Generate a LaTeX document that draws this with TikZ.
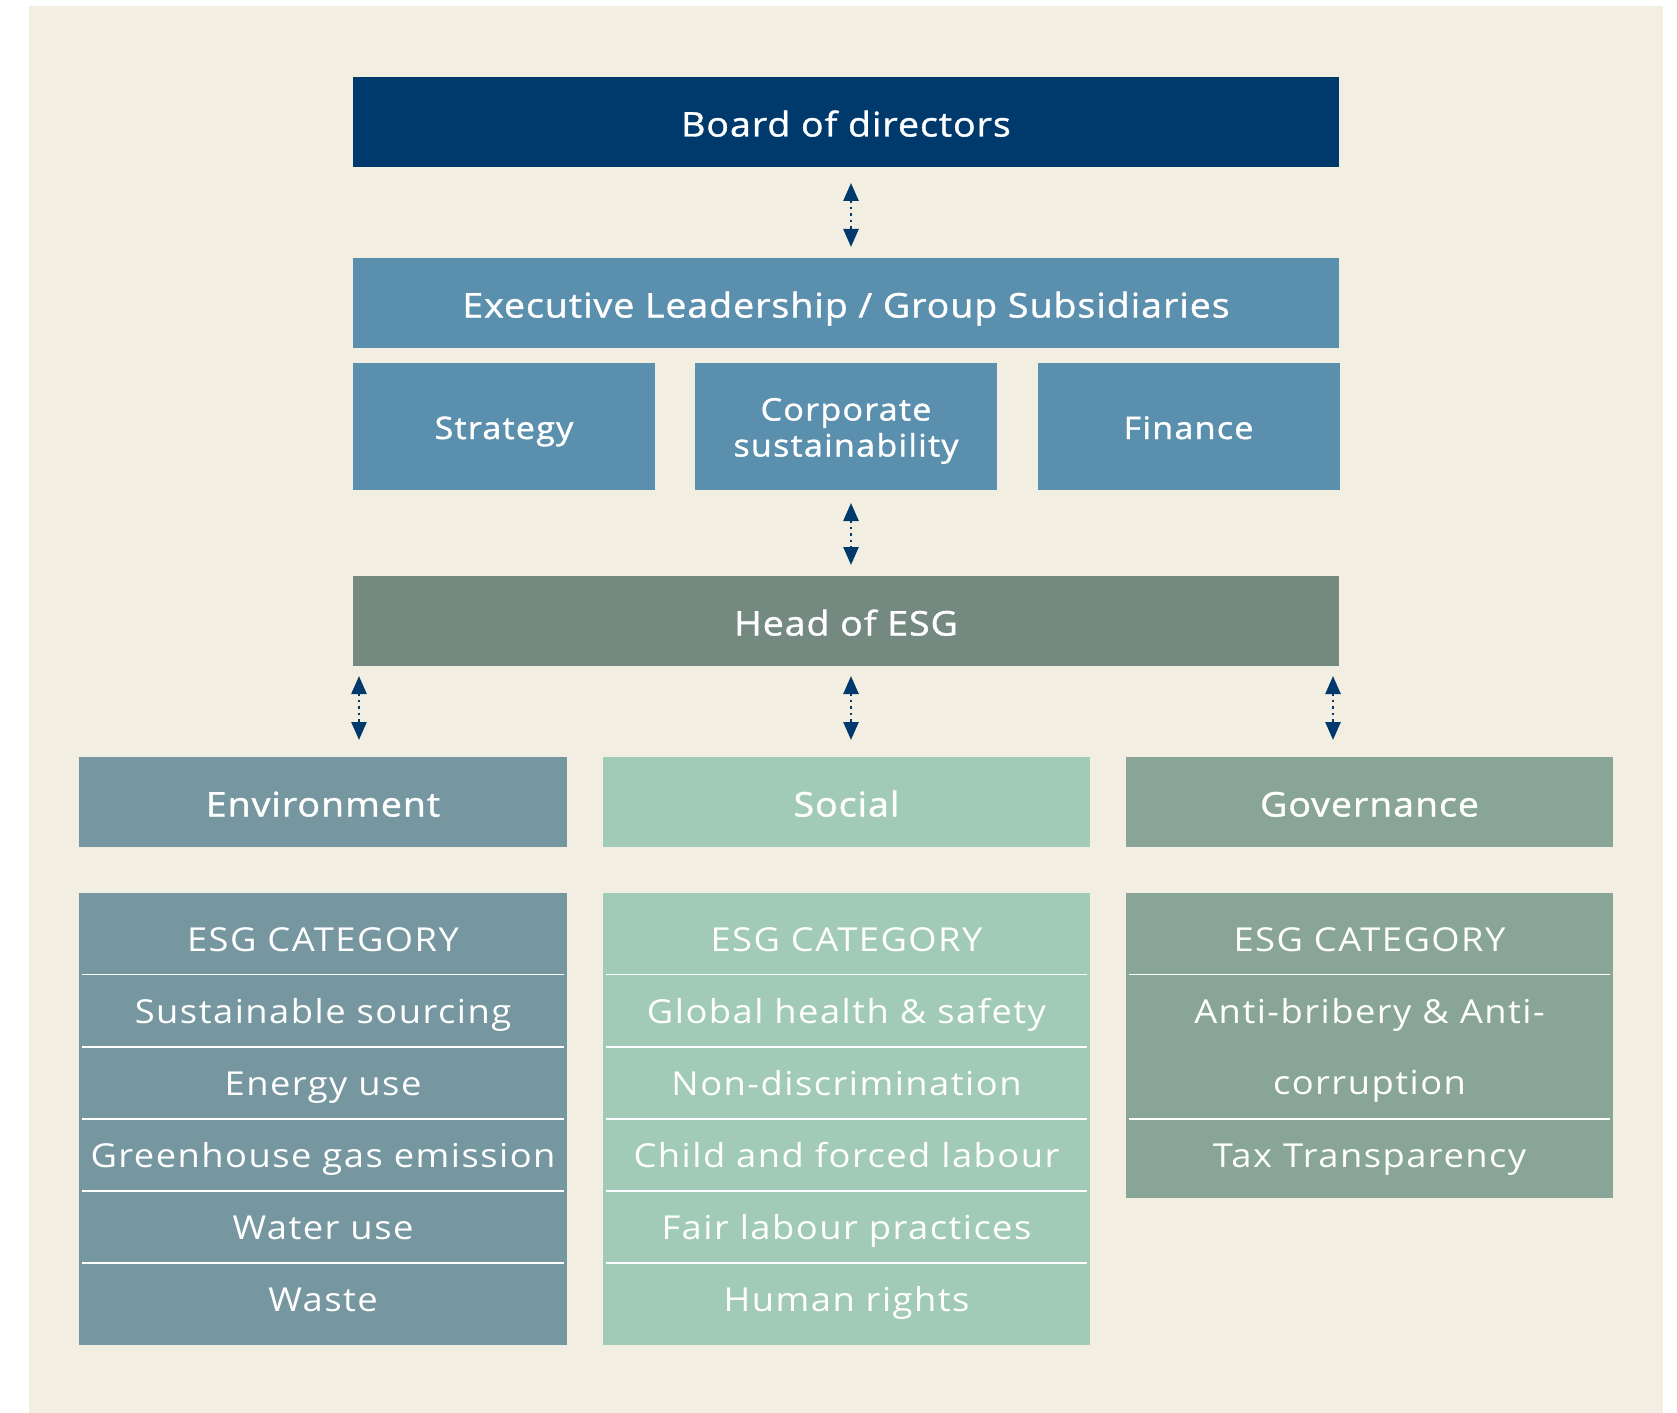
\documentclass[tikz,border=0pt]{standalone}
\usepackage{fontspec}
\setmainfont{Open Sans}
\newfontfamily\titlefont{Open Sans}[FakeBold=1.2, FakeStretch=1.1, LetterSpace=3]
\newfontfamily\subfont{Open Sans}[FakeBold=1.2, FakeStretch=1.1, LetterSpace=4]
\newfontfamily\cellfont{Open Sans}[FakeStretch=1.1, LetterSpace=4.5]
\usetikzlibrary{arrows.meta}
\definecolor{bgc}{HTML}{F3EEE2}
\definecolor{navy}{HTML}{003A6C}
\definecolor{steel}{HTML}{5B8FAE}
\definecolor{headc}{HTML}{748A80}
\definecolor{envc}{HTML}{76979F}
\definecolor{socc}{HTML}{A2CBB7}
\definecolor{govc}{HTML}{88A598}
\tikzset{
  box/.style={fill=#1, inner sep=0pt, outer sep=0pt, text=white,
    font=\titlefont\fontsize{34bp}{40bp}\selectfont, text height=29bp, text depth=0pt},
  subbox/.style={fill=steel, inner sep=0pt, outer sep=0pt, text=white,
    minimum width=302bp, minimum height=127bp,
    font=\subfont\fontsize{31bp}{36bp}\selectfont, text height=25bp, text depth=0pt},
  subtext/.style={inner sep=0pt, text=white, align=center,
    font=\subfont\fontsize{31bp}{36bp}\selectfont},
  tabbg/.style={fill=#1, inner sep=0pt, outer sep=0pt, minimum width=488bp},
  cell/.style={inner sep=0pt, text=white, font=\cellfont\fontsize{33bp}{40bp}\selectfont,
    text height=24bp, text depth=0pt},
  sepline/.style={white, line width=1.5bp},
  arr/.style={navy, line width=2.5bp, dash pattern=on 2.5bp off 4bp,
    {Triangle[width=15bp,length=18bp]}-{Triangle[width=15bp,length=18bp]}}
}
\begin{document}
\begin{tikzpicture}[x=1bp,y=-1bp]
\useasboundingbox (0,0) rectangle (1677,1413);
\fill[bgc] (29,6) rectangle (1663,1413);
% top boxes
\node[box=navy, minimum width=986bp, minimum height=90bp] (board) at (846,122) {Board of directors};
\node[box=steel, minimum width=986bp, minimum height=90bp] (exec) at (846,303) {Executive Leadership / Group Subsidiaries};
\node[subbox] (strat) at (504,426.5) {Strategy};
\node[subbox] (corp) at (846,426.5) {};
\node[subtext] (corptext) at ([yshift=-4.5bp]corp.center) {Corporate\\sustainability};
\node[subbox] (fin) at (1188.5,426.5) {Finance};
\node[box=headc, minimum width=986bp, minimum height=90bp] (head) at (846,621) {Head of ESG};
% category boxes
\node[box=envc, minimum width=488bp, minimum height=90bp] (env) at (323,802) {Environment};
\node[box=socc, minimum width=487bp, minimum height=90bp] (soc) at (846.5,802) {Social};
\node[box=govc, minimum width=487bp, minimum height=90bp] (gov) at (1369.5,802) {Governance};
% arrows
\coordinate (a1) at ([xshift=5bp]board.south);
\draw[arr, shorten <=16bp, shorten >=11bp] (a1) -- (a1 |- exec.north);
\coordinate (a2) at ([xshift=5bp]corp.south);
\draw[arr, shorten <=13bp, shorten >=11bp] (a2) -- (a2 |- head.north);
\coordinate (a3) at ([xshift=6bp]head.south west);
\coordinate (a4) at ([xshift=5bp]head.south);
\coordinate (a5) at ([xshift=-6bp]head.south east);
\draw[arr, shorten <=10bp, shorten >=17bp] (a3) -- (a3 |- env.north);
\draw[arr, shorten <=10bp, shorten >=17bp] (a4) -- (a4 |- soc.north);
\draw[arr, shorten <=10bp, shorten >=17bp] (a5) -- (a5 |- gov.north);
% tables
\node[tabbg=envc, minimum height=452bp] (te) at (323,1119) {};
\node[tabbg=socc, minimum width=487bp, minimum height=452bp] (ts) at (846.5,1119) {};
\node[tabbg=govc, minimum width=487bp, minimum height=305bp] (tg) at (1369.5,1045.5) {};
\foreach \y in {974.5,1047,1119,1191,1263}{
  \draw[sepline] ([xshift=3bp]te.west |- 0,\y) -- ([xshift=-3bp]te.east |- 0,\y);
  \draw[sepline] ([xshift=3bp]ts.west |- 0,\y) -- ([xshift=-3bp]ts.east |- 0,\y);
}
\foreach \y in {974.5,1119}{
  \draw[sepline] ([xshift=3bp]tg.west |- 0,\y) -- ([xshift=-3bp]tg.east |- 0,\y);
}
\node[cell] (e0) at (323,939) {ESG CATEGORY};
\node[cell] (e1) at (323,1011) {Sustainable sourcing};
\node[cell] (e2) at (323,1083) {Energy use};
\node[cell] (e3) at (323,1155) {Greenhouse gas emission};
\node[cell] (e4) at (323,1227) {Water use};
\node[cell] (e5) at (323,1299) {Waste};
\node[cell] (s0) at (846.5,939) {ESG CATEGORY};
\node[cell] (s1) at (846.5,1011) {Global health \& safety};
\node[cell] (s2) at (846.5,1083) {Non-discrimination};
\node[cell] (s3) at (846.5,1155) {Child and forced labour};
\node[cell] (s4) at (846.5,1227) {Fair labour practices};
\node[cell] (s5) at (846.5,1299) {Human rights};
\node[cell] (g0) at (1369.5,939) {ESG CATEGORY};
\node[cell] (g1) at (1369.5,1011) {Anti-bribery \& Anti-};
\node[cell] (g2) at (1369.5,1082) {corruption};
\node[cell] (g3) at (1369.5,1155) {Tax Transparency};
\end{tikzpicture}
\end{document}
